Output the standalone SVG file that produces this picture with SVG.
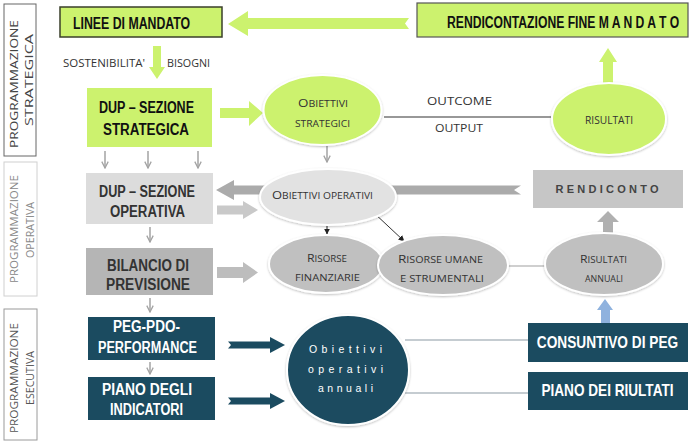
<svg xmlns="http://www.w3.org/2000/svg" width="690" height="443" viewBox="0 0 690 443">
<defs>
<style>
.side{font-family:"Open Sans","Liberation Sans",sans-serif;font-size:10.5px;text-anchor:middle}
.bx{font-family:"Liberation Sans",Arial,sans-serif;font-weight:bold;font-size:16px;text-anchor:middle}
.sc{font-family:"Open Sans","Liberation Sans",sans-serif;text-anchor:middle;fill:#333}
.big{font-size:10.5px}
.sm{font-size:8.3px}
.cap{font-family:"Open Sans","Liberation Sans",sans-serif;font-size:10px;fill:#333}
.ann{font-family:"Liberation Sans",Arial,sans-serif;font-size:10.5px;fill:#fff;text-anchor:middle}
.green{fill:#ccf26e}
.teal{fill:#1b4b60}
.thin{stroke:#a3a3a3;stroke-width:1.5;fill:none}
.glow{stroke:#fff;stroke-width:2;filter:url(#sh)}
</style>
<filter id="sh" x="-20%" y="-20%" width="140%" height="140%">
<feDropShadow dx="0" dy="1" stdDeviation="1.2" flood-color="#000" flood-opacity="0.25"/>
</filter>
<marker id="chev" viewBox="0 0 10 10" refX="9" refY="5" markerWidth="8" markerHeight="8" orient="auto" markerUnits="userSpaceOnUse">
<path d="M1,1 L9,5 L1,9" fill="none" stroke="#a3a3a3" stroke-width="1.6"/>
</marker>
<marker id="blk" viewBox="0 0 10 10" refX="9" refY="5" markerWidth="6" markerHeight="6" orient="auto" markerUnits="userSpaceOnUse">
<path d="M0,0 L10,5 L0,10 z" fill="#222"/>
</marker>
</defs>
<rect width="690" height="443" fill="#fff"/>

<!-- side labels -->
<g id="lbl-strategica">
<rect x="4" y="4" width="32" height="152" fill="#fff" stroke="#666" stroke-width="1"/>
<text class="side" fill="#444" transform="translate(18,84) rotate(-90)" textLength="128" lengthAdjust="spacingAndGlyphs">PROGRAMMAZIONE</text>
<text class="side" fill="#444" transform="translate(33,80) rotate(-90)" textLength="92" lengthAdjust="spacingAndGlyphs">STRATEGICA</text>
</g>
<g id="lbl-operativa">
<rect x="4" y="162" width="33" height="134" fill="#fff" stroke="#d0d0d0" stroke-width="1"/>
<text class="side" fill="#888" transform="translate(18,229) rotate(-90)" textLength="108" lengthAdjust="spacingAndGlyphs">PROGRAMMAZIONE</text>
<text class="side" fill="#888" transform="translate(34,230) rotate(-90)" textLength="56" lengthAdjust="spacingAndGlyphs">OPERATIVA</text>
</g>
<g id="lbl-esecutiva">
<rect x="4" y="309" width="33" height="131" fill="#fff" stroke="#9a9a9a" stroke-width="1"/>
<text class="side" fill="#555" transform="translate(18,378) rotate(-90)" textLength="110" lengthAdjust="spacingAndGlyphs">PROGRAMMAZIONE</text>
<text class="side" fill="#555" transform="translate(34,378) rotate(-90)" textLength="54" lengthAdjust="spacingAndGlyphs">ESECUTIVA</text>
</g>

<!-- connectors -->
<g id="connectors">
<path class="green" d="M228,24 L248,11 L248,18 L409,18 L405,23.5 L409,29 L248,29 L248,36 Z"/>
<path class="green" d="M153,46 L161,46 L161,67 L165,67 L157,79 L149,67 L153,67 Z"/>
<path class="green" d="M220,108 L249,108 L249,101 L263,113 L249,126 L249,118 L220,118 Z"/>
<path class="green" d="M608,48 L617,62 L613,62 L613,83 L603,83 L603,62 L599,62 Z"/>
<line x1="384" y1="117" x2="551" y2="117" stroke="#333" stroke-width="1.2"/>
<line class="thin" x1="105" y1="151" x2="105" y2="168" marker-end="url(#chev)"/>
<line class="thin" x1="148" y1="151" x2="148" y2="168" marker-end="url(#chev)"/>
<line class="thin" x1="198" y1="151" x2="198" y2="168" marker-end="url(#chev)"/>
<line class="thin" x1="327" y1="146" x2="327" y2="162" marker-end="url(#chev)"/>
<line class="thin" x1="150" y1="227" x2="150" y2="242" marker-end="url(#chev)"/>
<line class="thin" x1="150" y1="298" x2="150" y2="312" marker-end="url(#chev)"/>
<line class="thin" x1="150" y1="362" x2="150" y2="374" marker-end="url(#chev)"/>
<path fill="#ababab" d="M216,190 L234,180 L234,185.5 L521,185.5 L514,190 L521,194.5 L234,194.5 L234,200 Z"/>
<path fill="#c9c9c9" d="M217,205.5 L243,205.5 L243,201 L258,210 L243,219 L243,214.5 L217,214.5 Z"/>
<path fill="#bdbdbd" d="M217,267 L243,267 L243,262 L258,272.5 L243,283 L243,278 L217,278 Z"/>
<path fill="#b0b0b0" d="M608,211 L619,222 L613,222 L613,234 L603,234 L603,222 L597,222 Z"/>
<line x1="327" y1="223" x2="327" y2="234" stroke="#222" stroke-width="1" marker-end="url(#blk)"/>
<line x1="373" y1="212" x2="404" y2="241" stroke="#333" stroke-width="1" marker-end="url(#blk)"/>
<line x1="506" y1="266" x2="548" y2="266" stroke="#a0a0a0" stroke-width="1.2"/>
<path fill="#8fb2de" d="M605,299 L613,310 L610,310 L610,323 L601,323 L601,310 L597,310 Z"/>
<path class="teal" d="M228,341.5 L270,341.5 L270,337 L285,345 L270,353 L270,348.5 L228,348.5 L231,345 Z"/>
<path class="teal" d="M228,397.5 L270,397.5 L270,393 L285,401 L270,409 L270,404.5 L228,404.5 L231,401 Z"/>
<line x1="405" y1="340" x2="529" y2="340" stroke="#8b9aa3" stroke-width="1.2"/>
<line x1="405" y1="393" x2="529" y2="393" stroke="#8b9aa3" stroke-width="1.2"/>
</g>

<!-- nodes -->
<g id="linee-mandato">
<rect x="60" y="7" width="162" height="30" class="green" stroke="#3a3f2a" stroke-width="1.5"/>
<text class="bx" transform="translate(73,29) scale(0.77,1)" style="text-anchor:start" fill="#111">LINEE DI MANDATO</text>
</g>
<g id="rendicontazione">
<rect x="417" y="3" width="271" height="34" class="green" stroke="#555" stroke-width="1.2"/>
<text class="bx" transform="translate(447,28) scale(0.76,1)" style="text-anchor:start" fill="#111">RENDICONTAZIONE FINE M A N D A T O</text>
</g>
<g id="sostenibilita">
<text class="cap" x="63" y="67" textLength="82" lengthAdjust="spacingAndGlyphs">SOSTENIBILITA'</text>
</g>
<g id="bisogni">
<text class="cap" x="167" y="67" textLength="43" lengthAdjust="spacingAndGlyphs">BISOGNI</text>
</g>
<g id="dup-strategica">
<rect x="87" y="88" width="125" height="59" class="green"/>
<text class="bx" x="146.5" y="113" fill="#111" textLength="95" lengthAdjust="spacingAndGlyphs">DUP – SEZIONE</text>
<text class="bx" x="146" y="135" fill="#111" textLength="86" lengthAdjust="spacingAndGlyphs">STRATEGICA</text>
</g>
<g id="obiettivi-strategici">
<ellipse cx="322.5" cy="110" rx="59" ry="35" class="green glow"/>
<text class="sc" x="323" y="107" textLength="50" lengthAdjust="spacingAndGlyphs"><tspan class="big">O</tspan><tspan class="sm">BIETTIVI</tspan></text>
<text class="sc sm" x="322.5" y="127" textLength="55" lengthAdjust="spacingAndGlyphs">STRATEGICI</text>
</g>
<g id="outcome">
<text class="cap" x="459.5" y="105" style="text-anchor:middle" textLength="65" lengthAdjust="spacingAndGlyphs">OUTCOME</text>
<text class="cap" x="459" y="132" style="text-anchor:middle" textLength="48" lengthAdjust="spacingAndGlyphs">OUTPUT</text>
</g>
<g id="risultati">
<ellipse cx="609" cy="119" rx="57" ry="36" class="green glow"/>
<text class="cap" x="609" y="124" style="text-anchor:middle" textLength="48" lengthAdjust="spacingAndGlyphs">RISULTATI</text>
</g>
<g id="dup-operativa">
<rect x="86" y="173" width="127" height="51" fill="#dcdcdc"/>
<text class="bx" x="147" y="197" fill="#333" textLength="96" lengthAdjust="spacingAndGlyphs">DUP – SEZIONE</text>
<text class="bx" x="147.5" y="217" fill="#333" textLength="75" lengthAdjust="spacingAndGlyphs">OPERATIVA</text>
</g>
<g id="obiettivi-operativi">
<ellipse cx="328" cy="197" rx="68" ry="28" fill="#e2e2e2" class="glow"/>
<text class="sc" x="322.5" y="199" textLength="101" lengthAdjust="spacingAndGlyphs"><tspan class="big">O</tspan><tspan class="sm">BIETTIVI OPERATIVI</tspan></text>
</g>
<g id="rendiconto">
<rect x="533" y="170" width="150" height="38" fill="#c6c6c6"/>
<text x="607" y="193" font-family="Liberation Sans, Arial, sans-serif" font-size="11" font-weight="bold" fill="#444" text-anchor="middle" textLength="103" lengthAdjust="spacing">RENDICONTO</text>
</g>
<g id="bilancio">
<rect x="86" y="248" width="127" height="47" fill="#b5b5b5"/>
<text class="bx" x="148" y="271" fill="#333" textLength="82" lengthAdjust="spacingAndGlyphs">BILANCIO DI</text>
<text class="bx" x="148" y="290" fill="#333" textLength="84" lengthAdjust="spacingAndGlyphs">PREVISIONE</text>
</g>
<g id="risorse-finanziarie">
<ellipse cx="326" cy="264" rx="57" ry="29" fill="#c0c0c0" class="glow"/>
<text class="sc" x="327" y="262" textLength="40" lengthAdjust="spacingAndGlyphs"><tspan class="big">R</tspan><tspan class="sm">ISORSE</tspan></text>
<text class="sc sm" x="327.5" y="281" textLength="65" lengthAdjust="spacingAndGlyphs">FINANZIARIE</text>
</g>
<g id="risorse-umane">
<ellipse cx="443" cy="265" rx="65" ry="30" fill="#c0c0c0" class="glow"/>
<text class="sc" x="440.5" y="263" textLength="85" lengthAdjust="spacingAndGlyphs"><tspan class="big">R</tspan><tspan class="sm">ISORSE UMANE</tspan></text>
<text class="sc sm" x="442" y="282" textLength="84" lengthAdjust="spacingAndGlyphs">E STRUMENTALI</text>
</g>
<g id="risultati-annuali">
<ellipse cx="604" cy="264" rx="59" ry="31" fill="#c0c0c0" class="glow"/>
<text class="sc" x="603.5" y="263" textLength="47" lengthAdjust="spacingAndGlyphs"><tspan class="big">R</tspan><tspan class="sm">ISULTATI</tspan></text>
<text class="sc sm" x="604" y="282" textLength="38" lengthAdjust="spacingAndGlyphs">ANNUALI</text>
</g>
<g id="peg">
<rect x="88" y="317" width="127" height="43" class="teal"/>
<text class="bx" x="146.5" y="332" fill="#fff" textLength="67" lengthAdjust="spacingAndGlyphs">PEG-PDO-</text>
<text class="bx" x="147.5" y="353" fill="#fff" textLength="99" lengthAdjust="spacingAndGlyphs">PERFORMANCE</text>
</g>
<g id="piano-indicatori">
<rect x="88" y="377" width="127" height="43" class="teal"/>
<text class="bx" x="147" y="395" fill="#fff" textLength="90" lengthAdjust="spacingAndGlyphs">PIANO DEGLI</text>
<text class="bx" x="146.5" y="415" fill="#fff" textLength="73" lengthAdjust="spacingAndGlyphs">INDICATORI</text>
</g>
<g id="obiettivi-annuali">
<ellipse cx="348" cy="370" rx="61" ry="55" class="teal glow"/>
<text class="ann" x="345.5" y="353" textLength="73" lengthAdjust="spacing">Obiettivi</text>
<text class="ann" x="345.5" y="373" textLength="75" lengthAdjust="spacing">operativi</text>
<text class="ann" x="345.5" y="392" textLength="55" lengthAdjust="spacing">annuali</text>
</g>
<g id="consuntivo-peg">
<rect x="528" y="323" width="160" height="39" class="teal"/>
<text class="bx" transform="translate(607.5,348) scale(0.855,1)" fill="#fff">CONSUNTIVO DI PEG</text>
</g>
<g id="piano-risultati">
<rect x="528" y="372" width="160" height="38" class="teal"/>
<text class="bx" transform="translate(607.5,396) scale(0.85,1)" fill="#fff">PIANO DEI RIULTATI</text>
</g>
</svg>
